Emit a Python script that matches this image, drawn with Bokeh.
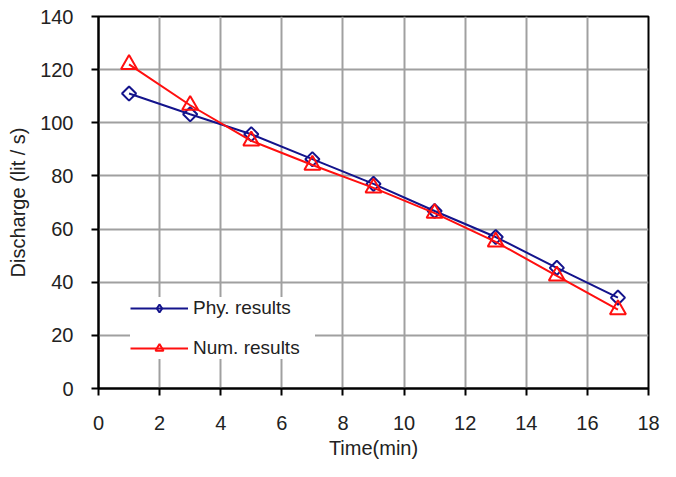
import math
from bokeh.plotting import figure
from bokeh.models import ColumnDataSource, Legend, LegendItem, FixedTicker, Range1d
from bokeh.embed import file_html
from bokeh.resources import INLINE

time_min = [1, 3, 5, 7, 9, 11, 13, 15, 17]
phy_results = [111, 103.2, 95.7, 86.3, 77, 66.8, 57, 45.4, 34.2]
num_results = [122, 106.6, 93.2, 84.1, 75.5, 66, 55.2, 42.4, 29.7]
x_ticks = [0, 2, 4, 6, 8, 10, 12, 14, 16, 18]
y_ticks = [0, 20, 40, 60, 80, 100, 120, 140]

BLUE = "#14148c"
RED = "#ff0f0f"
FONT = "Liberation Sans"
NAN = float("nan")

p = figure(width=660, height=461, output_backend="svg", toolbar_location=None,
           x_range=Range1d(0, 18), y_range=Range1d(0, 140),
           min_border_left=98, min_border_right=12, min_border_top=16, min_border_bottom=73)
p.outline_line_color = "black"
p.outline_line_width = 2

src = ColumnDataSource(dict(t=time_min, phy=phy_results, num=num_results))

p.line("t", "phy", source=src, line_color=BLUE, line_width=2)
p.scatter("t", "phy", source=src, marker="square", angle=math.pi / 4, size=10,
          fill_color=None, line_color=BLUE, line_width=2)
p.line("t", "num", source=src, line_color=RED, line_width=2)
p.scatter("t", "num", source=src, marker="triangle", size=16, fill_color=None,
          line_color=RED, line_width=2)

dummy = ColumnDataSource(dict(t=[NAN], phy=[NAN], num=[NAN]))
lp1 = p.line("t", "phy", source=dummy, line_color=BLUE, line_width=2)
lm1 = p.scatter("t", "phy", source=dummy, marker="diamond", size=9,
                fill_color=None, line_color=BLUE, line_width=2)
lp2 = p.line("t", "num", source=dummy, line_color=RED, line_width=2)
lm2 = p.scatter("t", "num", source=dummy, marker="triangle", size=8, fill_color=None,
                line_color=RED, line_width=2)

legend = Legend(items=[LegendItem(label="Phy. results", renderers=[lp1, lm1]),
                       LegendItem(label="Num. results", renderers=[lp2, lm2])],
                location=(32, 29), background_fill_color="white", background_fill_alpha=1,
                border_line_color=None, glyph_width=58, glyph_height=20, label_height=20,
                label_width=122, spacing=18, padding=9, margin=0,
                label_text_font=FONT, label_text_font_size="19px",
                label_text_color="#222222", label_standoff=5)
p.add_layout(legend, "center")

for ax in (p.xaxis, p.yaxis):
    ax.axis_line_color = "black"
    ax.axis_line_width = 2
    ax.major_tick_line_color = "black"
    ax.major_tick_line_width = 2
    ax.major_tick_out = 7
    ax.major_tick_in = 0
    ax.minor_tick_line_color = None
    ax.major_label_text_font = FONT
    ax.major_label_text_font_size = "20px"
    ax.major_label_text_color = "#222222"
    ax.axis_label_text_font = FONT
    ax.axis_label_text_font_size = "20px"
    ax.axis_label_text_font_style = "normal"
    ax.axis_label_text_color = "#222222"

p.xaxis.ticker = FixedTicker(ticks=x_ticks)
p.yaxis.ticker = FixedTicker(ticks=y_ticks)
p.xaxis.axis_label = "Time(min)"
p.yaxis.axis_label = "Discharge (lit / s)"
p.xaxis.major_label_standoff = 20
p.yaxis.major_label_standoff = 18
p.xaxis.axis_label_standoff = 4
p.yaxis.axis_label_standoff = 8

p.grid.grid_line_color = "#a0a0a0"
p.grid.grid_line_width = 2

open("out.html", "w").write(file_html(p, INLINE))
